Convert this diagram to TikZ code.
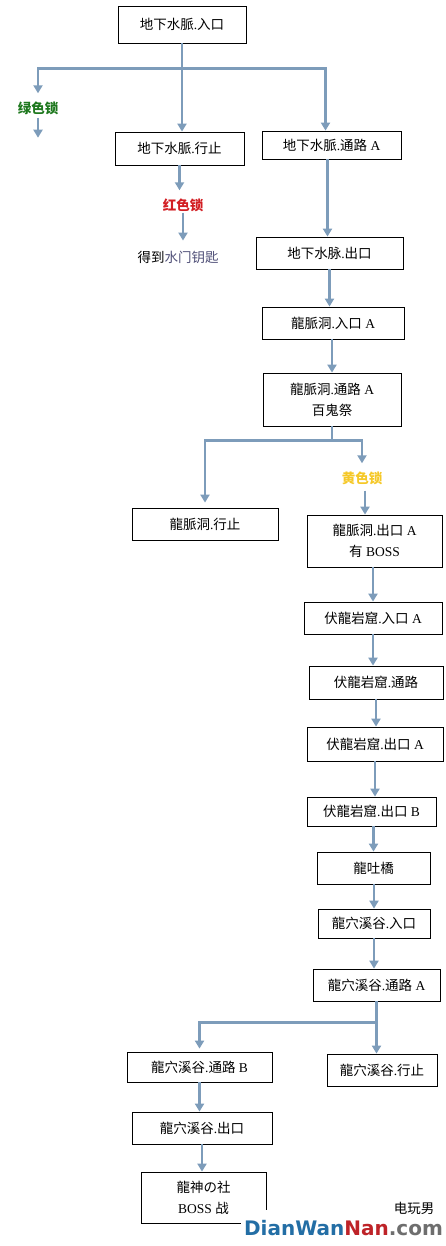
\documentclass[tikz,border=0pt]{standalone}
\usepackage{fontspec}
\setmainfont{Liberation Serif}
\newfontfamily\cjk{Noto Sans CJK SC}
\newfontfamily\wmfont{DejaVu Sans}
\usetikzlibrary{arrows.meta,calc}
\definecolor{linkblue}{RGB}{125,156,186}
\definecolor{lockgreen}{RGB}{30,120,30}
\definecolor{lockred}{RGB}{210,30,35}
\definecolor{lockyellow}{RGB}{245,200,40}
\definecolor{keyslate}{RGB}{80,80,120}
\definecolor{wmblue}{RGB}{35,110,165}
\definecolor{wmred}{RGB}{190,35,40}
\definecolor{wmgrey}{RGB}{110,110,110}
\newcommand{\zh}[1]{{\cjk #1}}
\tikzset{
  room/.style={draw, line width=0.8pt, inner sep=0pt, align=center, font=\fontsize{13.5}{21}\selectfont},
  lock/.style={inner sep=1pt, font=\fontsize{13.5}{17}\selectfont\bfseries},
  link/.style={draw=linkblue, line width=2.4pt},
  arrow/.style={link, -{Triangle[width=9pt,length=8pt]}},
}
\begin{document}
\begin{tikzpicture}[x=1pt,y=-1pt]
\useasboundingbox (0,0) rectangle (446,1246);
% Underground vein
\node[room, minimum width=128, minimum height=37] (rukou) at (182,24.5) {\zh{地下水脈}.\zh{入口}};
\node[room, minimum width=129, minimum height=33] (xingzhi) at (179.5,148.5) {\zh{地下水脈}.\zh{行止}};
\node[room, minimum width=139, minimum height=28] (tonglu) at (331.5,145) {\zh{地下水脈}.\zh{通路} A};
\node[room, minimum width=147, minimum height=32] (chukou) at (329.5,253) {\zh{地下水脉}.\zh{出口}};
\node[lock, text=lockgreen] (lvsuo) at (38,108) {\zh{绿色锁}};
\node[lock, text=lockred] (hongsuo) at (183,205) {\zh{红色锁}};
\node[inner sep=1pt, font=\fontsize{13.5}{17}\selectfont] (yaoshi) at (178,257) {\zh{得到}\textcolor{keyslate}{\zh{水门钥匙}}};
% Dragon vein cave
\node[room, minimum width=142, minimum height=32] (longrukou) at (333,323) {\zh{龍脈洞}.\zh{入口} A};
\node[room, minimum width=138, minimum height=53] (longtonglu) at (332,399.5) {\zh{龍脈洞}.\zh{通路} A\\\zh{百鬼祭}};
\node[room, minimum width=146, minimum height=32] (longxingzhi) at (205,524) {\zh{龍脈洞}.\zh{行止}};
\node[lock, text=lockyellow] (huangsuo) at (362,478) {\zh{黄色锁}};
\node[room, minimum width=135, minimum height=52] (longchukou) at (374.5,541) {\zh{龍脈洞}.\zh{出口} A\\\zh{有} BOSS};
% Hidden dragon grotto
\node[room, minimum width=138, minimum height=32] (furukou) at (373,618) {\zh{伏龍岩窟}.\zh{入口} A};
\node[room, minimum width=134, minimum height=33] (futonglu) at (376,682.5) {\zh{伏龍岩窟}.\zh{通路}};
\node[room, minimum width=136, minimum height=34] (fuchukoua) at (375,744) {\zh{伏龍岩窟}.\zh{出口} A};
\node[room, minimum width=129, minimum height=29] (fuchukoub) at (371.5,811.5) {\zh{伏龍岩窟}.\zh{出口} B};
\node[room, minimum width=113, minimum height=32] (longtuqiao) at (373.5,868) {\zh{龍吐橋}};
% Dragon hole valley
\node[room, minimum width=112, minimum height=29] (xirukou) at (374,923.5) {\zh{龍穴溪谷}.\zh{入口}};
\node[room, minimum width=127, minimum height=32] (xitonglua) at (376.5,985) {\zh{龍穴溪谷}.\zh{通路} A};
\node[room, minimum width=145, minimum height=30] (xitonglub) at (199.5,1067) {\zh{龍穴溪谷}.\zh{通路} B};
\node[room, minimum width=110, minimum height=32] (xixingzhi) at (382,1070) {\zh{龍穴溪谷}.\zh{行止}};
\node[room, minimum width=140, minimum height=32] (xichukou) at (202,1128) {\zh{龍穴溪谷}.\zh{出口}};
\node[room, minimum width=125, minimum height=51] (longshen) at (203.5,1197.5) {\zh{龍神の社}\\BOSS \zh{战}};
% Connectors
\coordinate (fenzhi1) at ($(rukou.south)+(0,25)$);
\coordinate (youzhi) at ($(tonglu.north)+(-6,0)$);
\coordinate (lvmo) at ($(lvsuo.south)+(0,22)$);
\draw[arrow, shorten >=7pt] (rukou.south) -- (fenzhi1) -| (lvsuo.north);
\draw[arrow] (fenzhi1) -| (youzhi);
\draw[arrow] (rukou.south) -- (rukou.south |- xingzhi.north);
\draw[arrow, shorten <=2pt] (lvsuo.south) -- (lvmo);
\draw[arrow] ([xshift=-4pt]tonglu.south) -- ([xshift=-4pt]tonglu.south |- chukou.north);
\draw[arrow, shorten >=7pt] (xingzhi.south) -- (xingzhi.south |- hongsuo.north);
\draw[arrow, shorten >=9pt] (hongsuo.south) -- (hongsuo.south |- yaoshi.north);
\draw[arrow] (chukou.south) -- (chukou.south |- longrukou.north);
\draw[arrow] (longtonglu.north |- longrukou.south) -- (longtonglu.north);
\coordinate (fenzhi2) at ($(longtonglu.south)+(0,14)$);
\draw[arrow, shorten >=5pt] (longtonglu.south) -- (fenzhi2) -| (longxingzhi.north);
\draw[arrow, shorten >=7pt] (fenzhi2) -| (huangsuo.north);
\draw[arrow, shorten <=5pt] ([xshift=3pt]huangsuo.south) -- ([xshift=3pt]huangsuo.south |- longchukou.north);
\draw[arrow] (furukou.north |- longchukou.south) -- (furukou.north);
\draw[arrow] (furukou.south) -- (furukou.south |- futonglu.north);
\draw[arrow] (futonglu.south) -- (futonglu.south |- fuchukoua.north);
\draw[arrow] (fuchukoua.south) -- (fuchukoua.south |- fuchukoub.north);
\draw[arrow] (longtuqiao.north |- fuchukoub.south) -- (longtuqiao.north);
\draw[arrow] (xirukou.north |- longtuqiao.south) -- (xirukou.north);
\draw[arrow] (xirukou.south) -- (xirukou.south |- xitonglua.north);
\coordinate (fenzhi3) at ($(xitonglua.south)+(0,21)$);
\draw[arrow, shorten >=3pt] (xitonglua.south) -- (fenzhi3) -| (xitonglub.north);
\draw[arrow] (fenzhi3) -- (fenzhi3 |- xixingzhi.north);
\draw[arrow] (xitonglub.south) -- (xitonglub.south |- xichukou.north);
\draw[arrow] (xichukou.south) -- (xichukou.south |- longshen.north);
% Watermark
\node[fill=white, minimum width=205, minimum height=36, inner sep=0pt, font=\wmfont\bfseries\fontsize{20}{20}\selectfont] (wangzhi) at (343.5,1228) {\textcolor{wmblue}{DianWan}\textcolor{wmred}{Nan}\textcolor{wmgrey}{.com}};
\node[inner sep=0pt, font=\fontsize{13.5}{17}\selectfont] (dianwan) at (414,1208) {\zh{电玩男}};
\end{tikzpicture}
\end{document}
